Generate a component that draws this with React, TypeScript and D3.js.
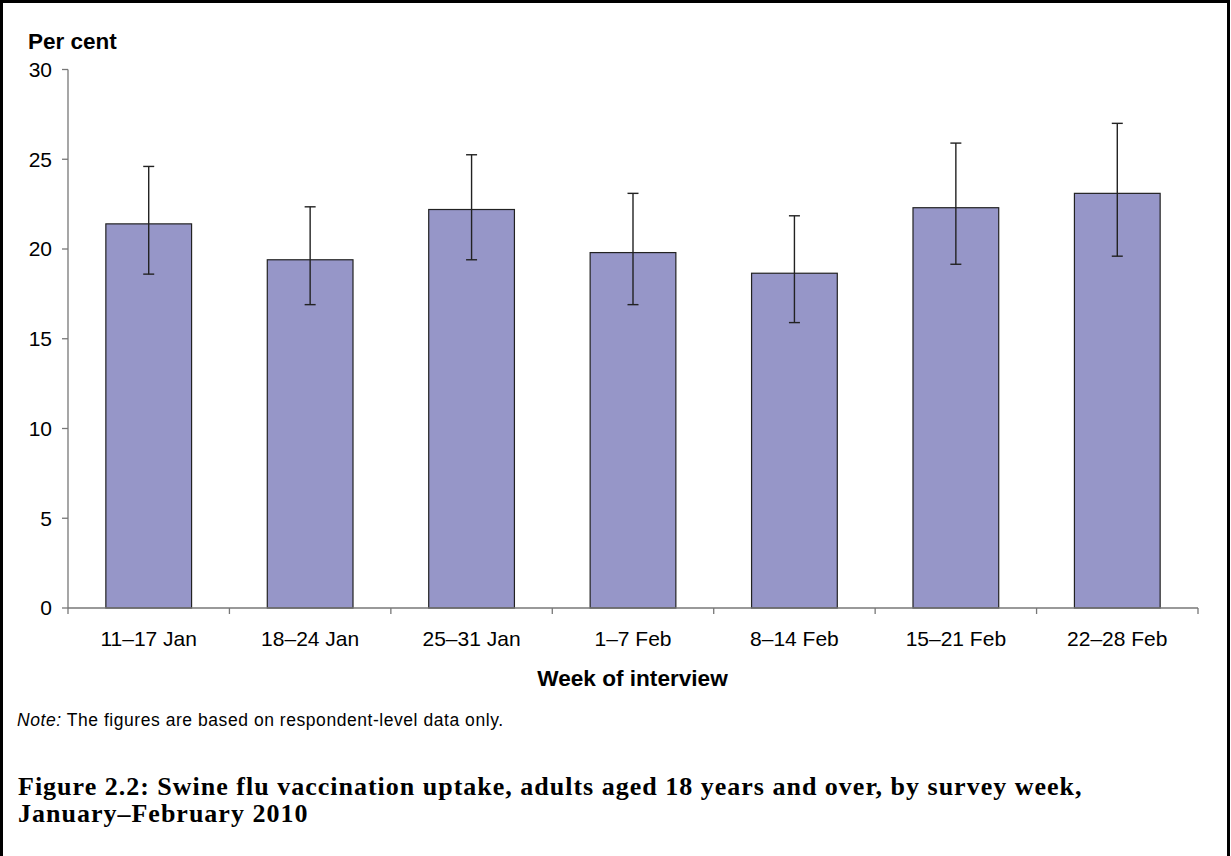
import React from "react";
import * as d3 from "d3";

const weeks = ["11–17 Jan", "18–24 Jan", "25–31 Jan", "1–7 Feb", "8–14 Feb", "15–21 Feb", "22–28 Feb"];
const uptake = [21.4, 19.4, 22.2, 19.8, 18.65, 22.3, 23.1];
const lowerCI = [18.6, 16.9, 19.4, 16.9, 15.9, 19.15, 19.6];
const upperCI = [24.6, 22.35, 25.25, 23.1, 21.85, 25.9, 27.0];
const yTicks = [0, 5, 10, 15, 20, 25, 30];

const W = 1231;
const H = 856;
const SANS = "'Liberation Sans', Arial, sans-serif";
const SERIF = "'Liberation Serif', 'Times New Roman', serif";

export default function App() {
  const x = d3.scaleBand<string>().domain(weeks).range([68, 1198]).padding(0);
  const y = d3.scaleLinear().domain([0, 30]).range([608, 69.5]);
  const bw = x.bandwidth() * 0.531;
  const capW = 11;
  const axisColor = "#777";
  const tickPositions = d3.range(weeks.length + 1).map((i) => 68 + i * x.step());

  return (
    <svg width={W} height={H} style={{ position: "absolute", left: 0, top: 0, background: "#fff" }}>
      <rect x={0} y={0} width={W} height={H} fill="#fff" />
      <rect x={1.5} y={1.5} width={1227} height={H + 10} fill="none" stroke="#000" strokeWidth={3} />

      <text x={28} y={48.5} fontFamily={SANS} fontWeight="bold" fontSize={22.5}>Per cent</text>

      {/* bars */}
      {weeks.map((w, i) => {
        const cx = (x(w) as number) + x.bandwidth() / 2;
        return (
          <rect key={w} x={cx - bw / 2} y={y(uptake[i])} width={bw} height={y(0) - y(uptake[i])}
            fill="#9696c8" stroke="#222" strokeWidth={1.2} />
        );
      })}

      {/* error bars */}
      {weeks.map((w, i) => {
        const cx = (x(w) as number) + x.bandwidth() / 2;
        return (
          <g key={"e" + w} stroke="#222" strokeWidth={1.4}>
            <line x1={cx} x2={cx} y1={y(upperCI[i])} y2={y(lowerCI[i])} />
            <line x1={cx - capW / 2} x2={cx + capW / 2} y1={y(upperCI[i])} y2={y(upperCI[i])} />
            <line x1={cx - capW / 2} x2={cx + capW / 2} y1={y(lowerCI[i])} y2={y(lowerCI[i])} />
          </g>
        );
      })}

      {/* y axis */}
      <line x1={68} x2={68} y1={y(30)} y2={y(0)} stroke={axisColor} strokeWidth={1.3} />
      {yTicks.map((t) => (
        <g key={t}>
          <line x1={62} x2={68} y1={y(t)} y2={y(t)} stroke={axisColor} strokeWidth={1.3} />
          <text x={52} y={y(t)} dy="0.35em" textAnchor="end" fontFamily={SANS} fontSize={21}>{t}</text>
        </g>
      ))}

      {/* x axis */}
      <line x1={68} x2={1198} y1={y(0)} y2={y(0)} stroke={axisColor} strokeWidth={1.3} />
      {tickPositions.map((p, i) => (
        <line key={i} x1={p} x2={p} y1={y(0)} y2={y(0) + 6} stroke={axisColor} strokeWidth={1.3} />
      ))}
      {weeks.map((w) => (
        <text key={"l" + w} x={(x(w) as number) + x.bandwidth() / 2} y={646} textAnchor="middle"
          fontFamily={SANS} fontSize={21}>{w}</text>
      ))}
      <text x={632.5} y={686} textAnchor="middle" fontFamily={SANS} fontWeight="bold" fontSize={22.6}>Week of interview</text>

      <text x={17} y={726} fontFamily={SANS} fontSize={17.5} letterSpacing={0.55}>
        <tspan fontStyle="italic">Note:</tspan> The figures are based on respondent-level data only.
      </text>

      <text x={18} y={795} fontFamily={SERIF} fontWeight="bold" fontSize={26} letterSpacing={1}>
        Figure 2.2: Swine flu vaccination uptake, adults aged 18 years and over, by survey week,
      </text>
      <text x={18} y={822} fontFamily={SERIF} fontWeight="bold" fontSize={26} letterSpacing={1}>
        January–February 2010
      </text>
    </svg>
  );
}
